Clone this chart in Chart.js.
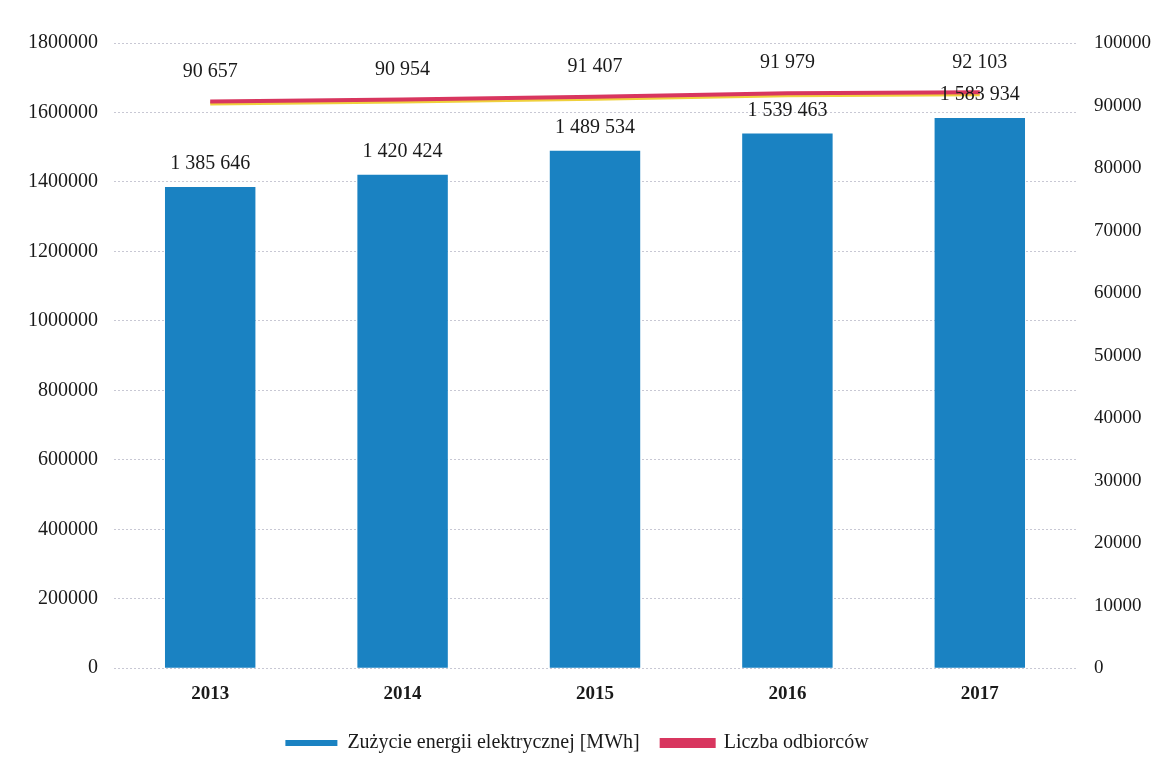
<!DOCTYPE html>
<html>
<head>
<meta charset="utf-8">
<script src="https://cdn.jsdelivr.net/npm/chart.js@4/dist/chart.umd.min.js"></script>
<style>
	html, body { margin: 0; padding: 0; background: #fff; }
	#wrap { width: 1158px; height: 769px; position: relative; }
</style>
</head>
<body>
<div id="wrap"><canvas id="chart" width="1158" height="769"></canvas></div>
<script>
// chart data
const years = ['2013', '2014', '2015', '2016', '2017']
const energyMWh = [1385646, 1420424, 1489534, 1539463, 1583934]
const customers = [90657, 90954, 91407, 91979, 92103]
const leftTicks = [0, 200000, 400000, 600000, 800000, 1000000, 1200000, 1400000, 1600000, 1800000]
const rightTicks = [0, 10000, 20000, 30000, 40000, 50000, 60000, 70000, 80000, 90000, 100000]

const FONT = '"Liberation Serif", "DejaVu Serif", serif'

function spaced(n) {
	return String(n).replace(/\B(?=(\d{3})+(?!\d))/g, ' ')
}

// value labels above bars and line points
const valueLabels = {
	id: 'valueLabels',
	afterDatasetsDraw(chart) {
		const ctx = chart.ctx
		ctx.save()
		ctx.font = '20px ' + FONT
		ctx.fillStyle = '#1a1a1a'
		ctx.textAlign = 'center'
		ctx.textBaseline = 'middle'
		chart.data.datasets.forEach((ds, i) => {
			const meta = chart.getDatasetMeta(i)
			meta.data.forEach((el, j) => {
				const dy = ds.type === 'line' ? -30 : -23
				ctx.fillText(spaced(ds.data[j]), el.x, el.y + dy)
			})
		})
		ctx.restore()
	}
}

// yellow edge under the red line
const lineShadow = {
	id: 'lineShadow',
	beforeDatasetDraw(chart, args) {
		if (args.meta.type !== 'line') return
		const ctx = chart.ctx
		ctx.save()
		ctx.shadowColor = 'rgba(238, 205, 50, 0.95)'
		ctx.shadowOffsetY = 2
		ctx.shadowBlur = 0
	},
	afterDatasetDraw(chart, args) {
		if (args.meta.type !== 'line') return
		chart.ctx.restore()
	}
}

const ctx = document.getElementById('chart').getContext('2d')
new Chart(ctx, {
	data: {
		labels: years,
		datasets: [
			{
				type: 'line',
				label: 'Liczba odbiorców',
				data: customers,
				yAxisID: 'y2',
				borderColor: '#d8365f',
				backgroundColor: '#d8365f',
				borderWidth: 4,
				pointRadius: 0,
				tension: 0,
				order: 0,
			},
			{
				type: 'bar',
				label: 'Zużycie energii elektrycznej [MWh]',
				data: energyMWh,
				yAxisID: 'y',
				backgroundColor: '#1a82c2',
				borderWidth: 0,
				barPercentage: 0.47,
				categoryPercentage: 1,
				order: 1,
			},
		],
	},
	options: {
		responsive: false,
		animation: false,
		layout: { padding: { top: 43, right: 4, bottom: 6, left: 0 } },
		scales: {
			x: {
				grid: { display: false },
				border: { display: false },
				ticks: {
					color: '#1a1a1a',
					font: { family: FONT, size: 19, weight: 'bold' },
					padding: 6,
				},
			},
			y: {
				position: 'left',
				min: 0,
				max: 1800000,
				afterBuildTicks: axis => { axis.ticks = leftTicks.map(v => ({ value: v })) },
				afterFit: axis => { axis.width = 114 },
				grid: { color: '#c8c8d4', drawTicks: false },
				border: { display: false, dash: [2, 2] },
				ticks: {
					color: '#1a1a1a',
					font: { family: FONT, size: 20 },
					padding: 16,
					callback: v => String(v),
				},
			},
			y2: {
				position: 'right',
				min: 0,
				max: 100000,
				afterBuildTicks: axis => { axis.ticks = rightTicks.map(v => ({ value: v })) },
				afterFit: axis => { axis.width = 78 },
				grid: { display: false },
				border: { display: false },
				ticks: {
					color: '#1a1a1a',
					font: { family: FONT, size: 19 },
					padding: 10,
					callback: v => String(v),
				},
			},
		},
		plugins: {
			legend: {
				position: 'bottom',
				reverse: true,
				labels: {
					color: '#1a1a1a',
					font: { family: FONT, size: 20 },
					boxWidth: 52,
					boxHeight: 6,
					padding: 22,
				},
			},
			tooltip: { enabled: false },
		},
	},
	plugins: [valueLabels, lineShadow],
})
</script>
</body>
</html>
